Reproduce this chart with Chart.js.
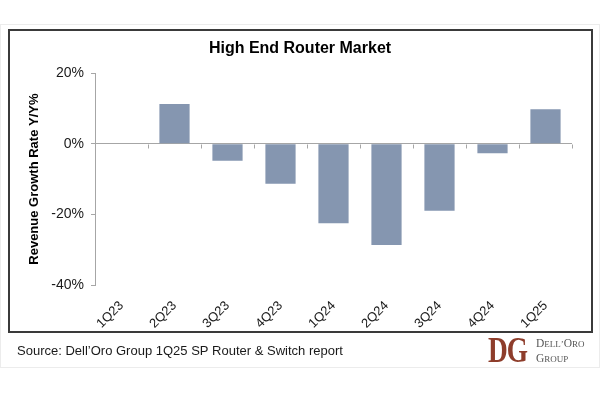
<!DOCTYPE html>
<html><head><meta charset="utf-8">
<script src="https://cdn.jsdelivr.net/npm/chart.js@4"></script>
<style>html,body{margin:0;padding:0;background:#fff}canvas{display:block}</style>
</head><body>
<canvas id="c" width="600" height="400"></canvas>
<script>
const categories = ['1Q23','2Q23','3Q23','4Q23','1Q24','2Q24','3Q24','4Q24','1Q25'];
const growth = [null, 11.3, -4.8, -11.3, -22.5, -28.7, -19.0, -2.7, 9.8];
const yTickValues = [-40, -20, 0, 20];
const chartTitle = 'High End Router Market';
const yTitle = 'Revenue Growth Rate Y/Y%';
const sourceText = 'Source: Dell\u2019Oro Group 1Q25 SP Router & Switch report';
const logoMark = ['D', 'G'];
const logoWords = ['Dell\u2019Oro', 'Group'];

Chart.defaults.font.family = "'Liberation Sans', Arial, sans-serif";

function drawSmallCaps(ctx, word, x, y, big, small) {
  let cx = x;
  for (let i = 0; i < word.length; i++) {
    const ch = word[i];
    const isBig = ch === ch.toUpperCase() && ch !== ch.toLowerCase();
    ctx.font = (isBig ? big : small) + "px 'Liberation Serif', 'DejaVu Serif', serif";
    const t = ch.toUpperCase();
    ctx.fillText(t, cx, y);
    cx += ctx.measureText(t).width;
  }
}

const decor = {
  id: 'decor',
  beforeDraw(chart) {
    const ctx = chart.ctx;
    ctx.save();
    ctx.fillStyle = '#fff';
    ctx.fillRect(0, 0, chart.width, chart.height);
    ctx.strokeStyle = '#ececec';
    ctx.lineWidth = 1;
    ctx.strokeRect(0.5, 24.5, chart.width - 1, 343);
    ctx.strokeStyle = '#3a3a3a';
    ctx.lineWidth = 2;
    ctx.strokeRect(9, 30, 583, 302);
    ctx.restore();
  },
  afterDatasetsDraw(chart) {
    const ctx = chart.ctx, x = chart.scales.x, y = chart.scales.y;
    const y0 = Math.round(y.getPixelForValue(0)) + 0.5;
    const half = (x.getPixelForValue(1) - x.getPixelForValue(0)) / 2;
    ctx.save();
    ctx.strokeStyle = '#a6a6a6';
    ctx.lineWidth = 1;
    ctx.beginPath();
    for (let i = 0; i < categories.length; i++) {
      const bx = Math.round(x.getPixelForValue(i) + half) + 0.5;
      ctx.moveTo(bx, y0);
      ctx.lineTo(bx, y0 + 4);
    }
    ctx.stroke();
    ctx.restore();
  },
  afterDraw(chart) {
    const ctx = chart.ctx;
    ctx.save();
    ctx.fillStyle = '#1a1a1a';
    ctx.font = "13px 'Liberation Sans', Arial, sans-serif";
    ctx.textBaseline = 'middle';
    ctx.fillText(sourceText, 17, 351);
    // logo mark
    ctx.textBaseline = 'alphabetic';
    ctx.fillStyle = '#8e3d2b';
    ctx.save();
    ctx.translate(488, 362);
    ctx.scale(0.78, 1);
    ctx.font = "bold 35px 'Liberation Serif', 'DejaVu Serif', serif";
    ctx.fillText(logoMark[0], 0, 0);
    ctx.fillText(logoMark[1], 24, 0);
    ctx.restore();
    ctx.fillStyle = '#555';
    drawSmallCaps(ctx, logoWords[0], 536, 347, 11.5, 9);
    drawSmallCaps(ctx, logoWords[1], 536, 362, 11.5, 9);
    ctx.restore();
  }
};

new Chart(document.getElementById('c'), {
  type: 'bar',
  data: {
    labels: categories,
    datasets: [{
      data: growth,
      backgroundColor: '#8596b0',
      borderWidth: 0,
      categoryPercentage: 1,
      barPercentage: 0.57
    }]
  },
  options: {
    responsive: false,
    animation: false,
    layout: { padding: { top: 30, left: 9, right: 9, bottom: 68 } },
    plugins: {
      legend: { display: false },
      tooltip: { enabled: false },
      title: {
        display: true,
        text: chartTitle,
        color: '#000',
        font: { size: 16, weight: 'bold' },
        padding: { top: 9, bottom: 15 }
      }
    },
    scales: {
      x: {
        offset: true,
        grid: { display: false, drawTicks: true, tickLength: 6 },
        border: { display: false },
        ticks: {
          autoSkip: false,
          maxRotation: 45,
          minRotation: 45,
          padding: 7,
          color: '#1a1a1a',
          font: { size: 13 }
        },
        afterFit(s) { s.height = 47; }
      },
      y: {
        min: -40,
        max: 20,
        afterBuildTicks(s) { s.ticks = yTickValues.map(v => ({ value: v })); },
        grid: {
          color: c => (c.tick && c.tick.value === 0) ? '#a6a6a6' : 'rgba(0,0,0,0)',
          tickColor: '#a6a6a6',
          tickLength: 4
        },
        border: { display: true, color: '#a6a6a6' },
        ticks: {
          padding: 7,
          color: '#1a1a1a',
          font: { size: 14 },
          callback: v => v + '%'
        },
        title: {
          display: true,
          text: yTitle,
          color: '#000',
          font: { size: 13, weight: 'bold' },
          padding: { top: 18, bottom: 0 }
        },
        afterFit(s) { s.width = 86; }
      },
      yR: {
        position: 'right',
        display: true,
        grid: { display: false, drawTicks: false },
        border: { display: false },
        ticks: { display: false },
        afterFit(s) { s.width = 19; }
      }
    }
  },
  plugins: [decor]
});
</script>
</body></html>
